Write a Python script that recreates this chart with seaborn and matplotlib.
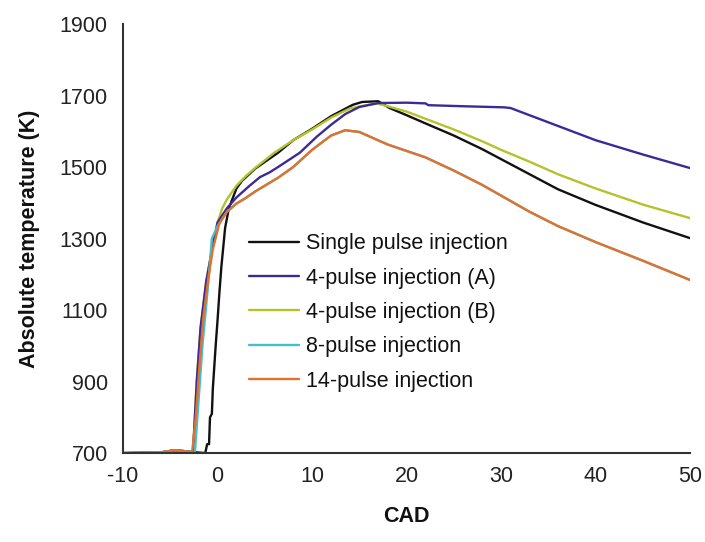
import matplotlib
matplotlib.use("Agg")
import matplotlib.pyplot as plt
import seaborn as sns
import pandas as pd

# Crank-angle (CAD) and temperature (K) traces for each injection strategy
single_cad = [-10, -6, -4.5, -3, -1.3, -1.1, -0.9, -0.8, -0.6, -0.5, -0.3, -0.2, 0.0, 0.2, 0.4, 0.8, 1.2,
              2.0, 2.6, 4.0, 6.4, 8.0, 10.0, 12.0, 14.3, 15.3, 17.0, 18.2, 20, 22, 25, 28, 30, 33, 36, 40, 45, 50]
single_temp = [700, 702, 708, 704, 700, 725, 725, 800, 810, 880, 960, 1000, 1072, 1150, 1220, 1330, 1385,
               1440, 1462, 1496, 1540, 1575, 1607, 1642, 1674, 1682, 1684, 1665, 1645, 1622, 1588, 1550, 1522,
               1480, 1438, 1394, 1345, 1301]

pulse4a_cad = [-10, -6, -4.5, -3, -2.6, -2.2, -1.8, -1.2, -0.5, 0.0, 1.0, 2.0, 3.4, 4.5, 5.5, 6.4, 8.7,
               10.5, 12, 13.5, 15, 17, 20, 22, 22.3, 26, 30.3, 31, 34, 37, 40, 45, 50]
pulse4a_temp = [700, 702, 708, 704, 700, 900, 1050, 1180, 1280, 1345, 1385, 1415, 1448, 1472, 1485, 1500,
                1540, 1585, 1618, 1648, 1668, 1679, 1680, 1678, 1673, 1670, 1667, 1665, 1635, 1605, 1575,
                1535, 1497]

pulse4b_cad = [-10, -6, -4.5, -3, -2.6, -2.2, -1.8, -1.2, -0.5, 0.0, 0.5, 1.0, 2.0, 3.0, 4.0, 6.0, 8.0,
               10.0, 12.0, 14.0, 16.8, 18, 20, 22, 25, 28, 30, 33, 36, 40, 45, 50]
pulse4b_temp = [700, 702, 708, 704, 700, 900, 1050, 1180, 1285, 1345, 1385, 1410, 1448, 1475, 1498, 1540,
                1575, 1605, 1638, 1664, 1678, 1670, 1655, 1635, 1605, 1572, 1548, 1515, 1480, 1440, 1395, 1357]

pulse8_cad = [-10, -6, -4.5, -3, -2.4, -2.0, -1.6, -1.0, -0.6, 0.0, 1.0, 2.0, 2.9, 4.0, 6.4, 8.0, 10.0,
              12.0, 13.5, 15, 18, 20, 22, 25, 28, 30, 33, 36, 40, 45, 50]
pulse8_temp = [700, 702, 708, 704, 700, 850, 1000, 1170, 1300, 1335, 1375, 1398, 1412, 1432, 1470, 1500,
               1548, 1588, 1603, 1598, 1563, 1545, 1527, 1490, 1450, 1420, 1375, 1335, 1290, 1238, 1184]

pulse14_cad = [-10, -6, -4.5, -3, -2.7, -2.3, -1.9, -1.5, -1.0, -0.5, 0.2, 1.0, 2.0, 2.9, 4.0, 6.4, 8.0,
               10.0, 12.0, 13.5, 15, 18, 20, 22, 25, 28, 30, 33, 36, 40, 45, 50]
pulse14_temp = [700, 702, 708, 704, 700, 800, 950, 1080, 1184, 1270, 1343, 1375, 1398, 1412, 1432, 1470,
                1500, 1548, 1588, 1603, 1598, 1563, 1545, 1527, 1490, 1450, 1420, 1375, 1335, 1290, 1238, 1184]

labels = ["Single pulse injection", "4-pulse injection (A)", "4-pulse injection (B)",
          "8-pulse injection", "14-pulse injection"]
colors = ["#111111", "#3b2a98", "#b4c22c", "#43bfd0", "#e2712c"]

series = [(single_cad, single_temp), (pulse4a_cad, pulse4a_temp), (pulse4b_cad, pulse4b_temp),
          (pulse8_cad, pulse8_temp), (pulse14_cad, pulse14_temp)]

frames = []
for lab, (cad, temp) in zip(labels, series):
    frames.append(pd.DataFrame({"CAD": cad, "T": temp, "case": lab}))
df = pd.concat(frames, ignore_index=True)

sns.set_style("white")
plt.rcParams["font.family"] = ["Liberation Sans", "DejaVu Sans"]
plt.rcParams["axes.unicode_minus"] = False

fig = plt.figure(figsize=(7.05, 5.42), dpi=100)
ax = fig.add_axes([0.1745, 0.164, 0.8045, 0.7917])

# draw in an order that keeps the 14-pulse trace on top of the 8-pulse one
draw_order = [0, 2, 1, 3, 4]
for i in draw_order:
    sub = df[df["case"] == labels[i]]
    sns.lineplot(data=sub, x="CAD", y="T", color=colors[i], linewidth=1.7,
                 estimator=None, sort=False, ax=ax, label=labels[i], clip_on=True)

ax.set_xlim(-10, 50)
ax.set_ylim(700, 1900)
ax.set_xticks(range(-10, 51, 10))
ax.set_yticks(range(700, 1901, 200))
ax.set_xlabel("CAD", fontsize=15.5, fontweight="bold", labelpad=14, color="#111111")
ax.set_ylabel("Absolute temperature (K)", fontsize=15.5, fontweight="bold", labelpad=14, color="#111111")
ax.tick_params(axis="both", direction="out", length=5, width=1.2, colors="#333333",
               labelsize=15.5, labelcolor="#222222", pad=6)
ax.tick_params(axis="x", pad=4)
for side in ["top", "right"]:
    ax.spines[side].set_visible(False)
for side in ["left", "bottom"]:
    ax.spines[side].set_color("#333333")
    ax.spines[side].set_linewidth(1.5)

handles, hl = ax.get_legend_handles_labels()
order = [hl.index(l) for l in labels]
leg = ax.legend([handles[k] for k in order], [hl[k] for k in order],
                loc="lower left", bbox_to_anchor=(0.195, 0.108), frameon=True,
                fontsize=15.5, handlelength=2.35, handletextpad=0.3, labelspacing=0.62,
                borderpad=0.2, framealpha=1.0)
leg.get_frame().set_edgecolor("white")
leg.get_frame().set_linewidth(0)
for t in leg.get_texts():
    t.set_color("#111111")

fig.savefig("out.png", dpi=100, facecolor="white")
